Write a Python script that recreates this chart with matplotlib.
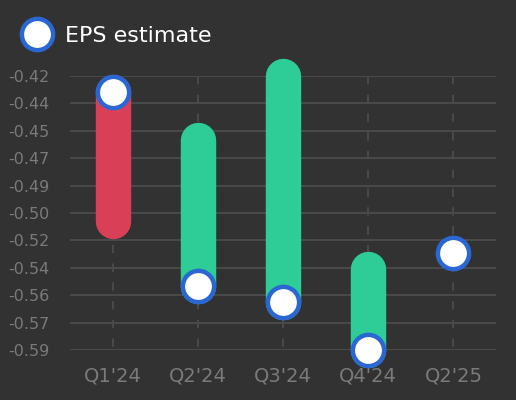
import matplotlib
matplotlib.use("Agg")
import matplotlib.pyplot as plt
from matplotlib.lines import Line2D
import numpy as np

quarters = ["Q1'24", "Q2'24", "Q3'24", "Q4'24", "Q2'25"]
eps_estimate = [-0.43, -0.55, -0.56, -0.59, -0.53]
eps_actual = [-0.51, -0.46, -0.42, -0.54, None]
ytick_values = np.linspace(-0.42, -0.59, 11)
ytick_labels = ["-0.42", "-0.44", "-0.45", "-0.47", "-0.49", "-0.50",
                "-0.52", "-0.54", "-0.56", "-0.57", "-0.59"]

bg = "#323232"
grid_col = "#494949"
green = "#2ecc96"
red = "#d94057"
blue = "#2a67d2"

fig = plt.figure(figsize=(5.16, 4.0), dpi=100, facecolor=bg)
ax = fig.add_axes([70 / 516, 50 / 400, 426 / 516, 274 / 400], facecolor=bg)

x = np.arange(len(quarters))

# horizontal grid + dashed category lines
for v in ytick_values:
    ax.axhline(v, color=grid_col, lw=1.5, zorder=0)
for xi in x:
    ax.plot([xi, xi], [ytick_values[0], ytick_values[-1]], color=grid_col,
            lw=1.5, ls=(0, (4, 5)), zorder=0)

# bars from estimate to actual
for xi, est, act in zip(x, eps_estimate, eps_actual):
    if act is None:
        continue
    col = green if act >= est else red
    ax.plot([xi, xi], [est, act], color=col, lw=25.5,
            solid_capstyle="round", zorder=2, clip_on=False)

# estimate markers
ax.plot(x, eps_estimate, "o", ms=22.5, mfc="white", mec=blue, mew=3.2,
        ls="none", zorder=3, clip_on=False)

ax.set_xlim(-0.5, 4.5)
ax.set_ylim(-0.59, -0.42)
ax.set_xticks(x)
ax.set_xticklabels(quarters)
ax.set_yticks(ytick_values)
ax.set_yticklabels(ytick_labels)
ax.tick_params(axis="x", length=0, pad=12, labelsize=14, labelcolor="#7a7a7a")
ax.tick_params(axis="y", length=0, pad=15, labelsize=11.5, labelcolor="#7a7a7a")
for s in ax.spines.values():
    s.set_visible(False)

handle = Line2D([], [], marker="o", ms=22.5, mfc="white", mec=blue, mew=3.2, ls="none")
fig.legend([handle], ["EPS estimate"], loc="center left",
           bbox_to_anchor=(19 / 516, 1 - 36 / 400), frameon=False,
           fontsize=16, labelcolor="white", handletextpad=0.45,
           borderpad=0, borderaxespad=0, handlelength=1.6)

fig.savefig("out.png", dpi=100, facecolor=bg)
